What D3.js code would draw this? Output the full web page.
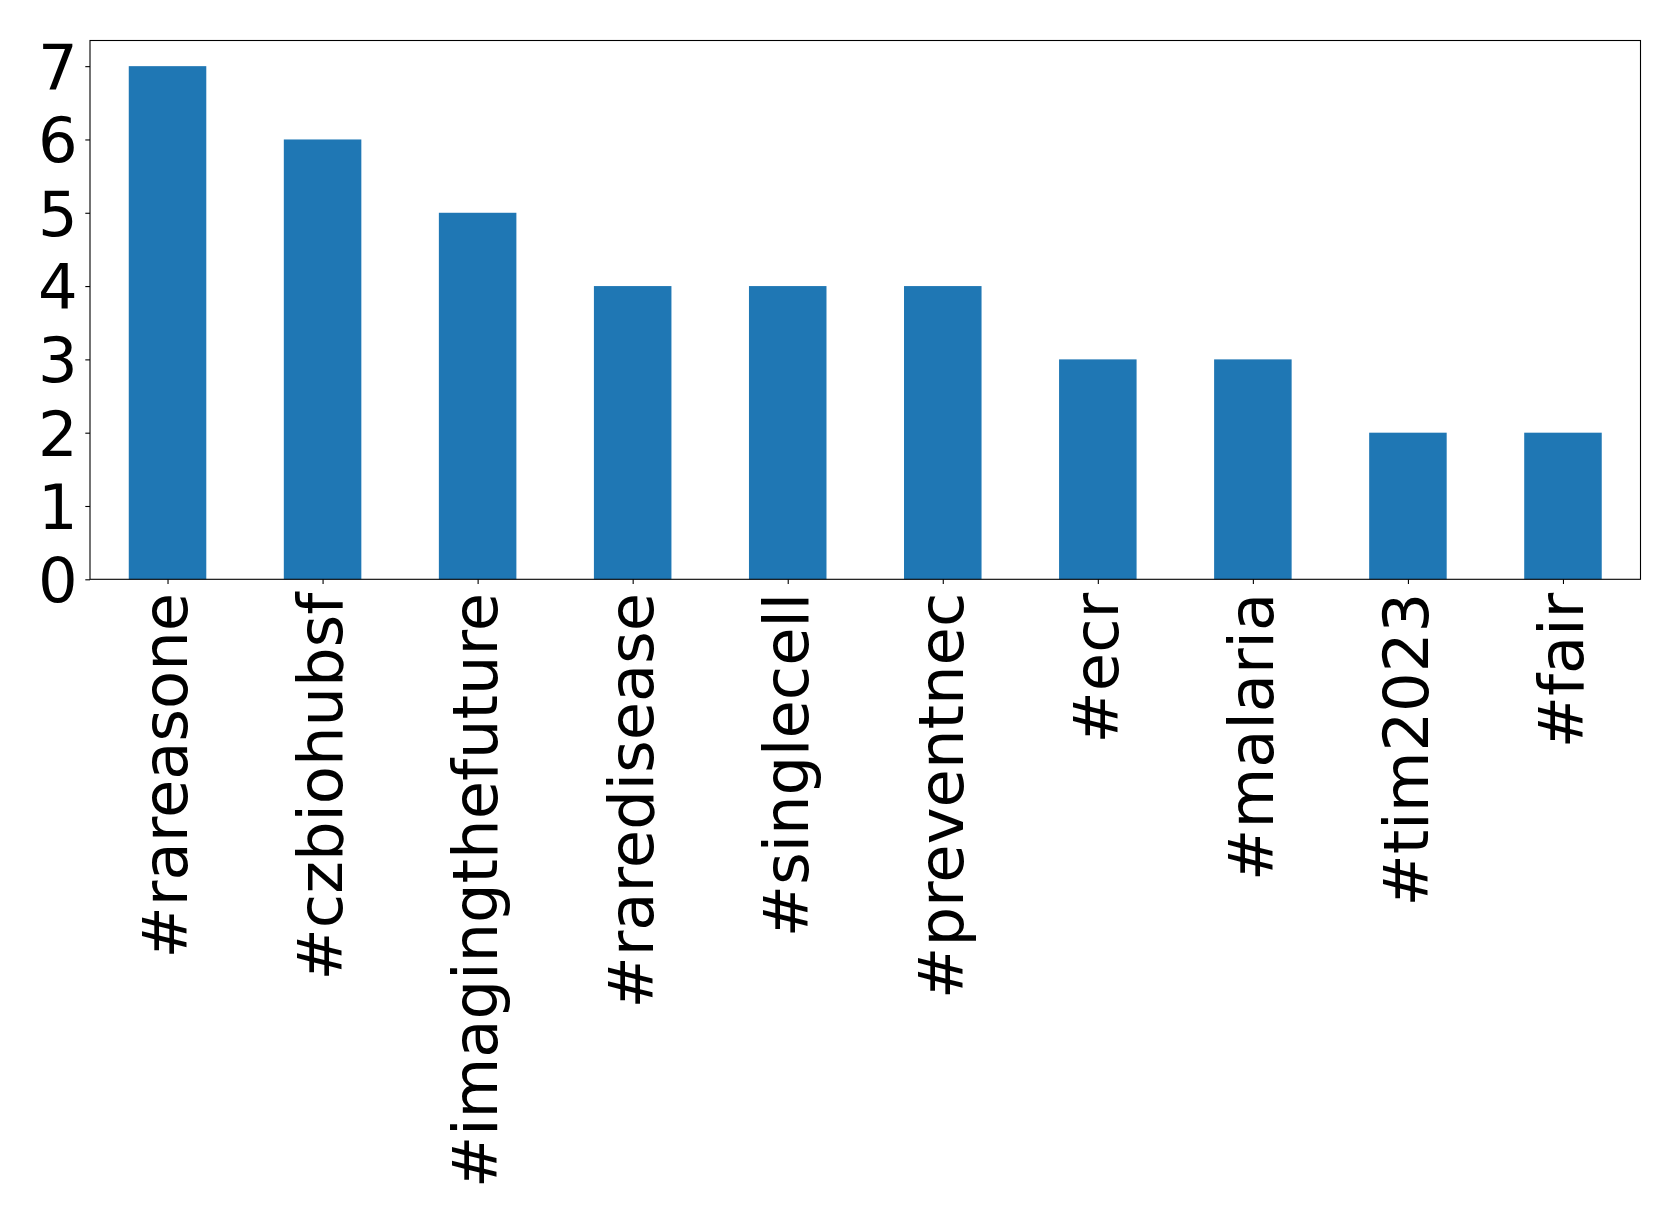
<!DOCTYPE html>
<html><head><meta charset="utf-8">
<script src="https://cdn.jsdelivr.net/npm/d3@7"></script>
<style>body{margin:0;background:#fff;} svg{display:block;}</style>
</head><body>
<script>
const categories = ["#rareasone","#czbiohubsf","#imagingthefuture","#raredisease","#singlecell","#preventnec","#ecr","#malaria","#tim2023","#fair"];
const counts = [7,6,5,4,4,4,3,3,2,2];
const yTicks = [0,1,2,3,4,5,6,7];

const W = 1679, H = 1224;
const m = {left: 90, right: 1640.5, top: 40.5, bottom: 579.3};
const svg = d3.select("body").append("svg").attr("width", W).attr("height", H);

const x = d3.scaleLinear().domain([-0.5, categories.length - 0.5]).range([m.left, m.right]);
const y = d3.scaleLinear().domain([0, 7.35]).range([m.bottom, m.top]);
const step = x(1) - x(0);

svg.append("g").selectAll("rect").data(counts).join("rect")
  .attr("x", (d,i) => x(i) - step*0.25)
  .attr("width", step*0.5)
  .attr("y", d => y(d))
  .attr("height", d => y(0) - y(d))
  .attr("fill", "#1f77b4");

const font = "DejaVu Sans";
const fs = 62.4;

const yAxis = d3.axisLeft(y).tickValues(yTicks).tickFormat(d3.format("d")).tickSize(4.7).tickPadding(7.5);
const gy = svg.append("g").attr("transform", `translate(${m.left},0)`).call(yAxis);
gy.select(".domain").remove();
gy.selectAll(".tick line").attr("stroke", "#000").attr("stroke-width", 1.1);
gy.selectAll("text").attr("font-family", font).attr("font-size", fs).attr("fill", "#000").attr("dy", "0.36em");

const xAxis = d3.axisBottom(x).tickValues(d3.range(categories.length)).tickFormat(i => categories[i]).tickSize(4.7).tickPadding(10);
const gx = svg.append("g").attr("transform", `translate(0,${m.bottom})`).call(xAxis);
gx.select(".domain").remove();
gx.selectAll(".tick line").attr("stroke", "#000").attr("stroke-width", 1.1);
gx.selectAll("text")
  .attr("font-family", font).attr("font-size", fs).attr("fill", "#000")
  .attr("text-anchor", "end")
  .attr("transform", "rotate(-90)")
  .attr("x", -13.5).attr("y", 0).attr("dy", "0.31em");

svg.append("rect").attr("x", m.left).attr("y", m.top)
  .attr("width", m.right - m.left).attr("height", m.bottom - m.top)
  .attr("fill", "none").attr("stroke", "#000").attr("stroke-width", 1.1);
</script>
</body></html>
